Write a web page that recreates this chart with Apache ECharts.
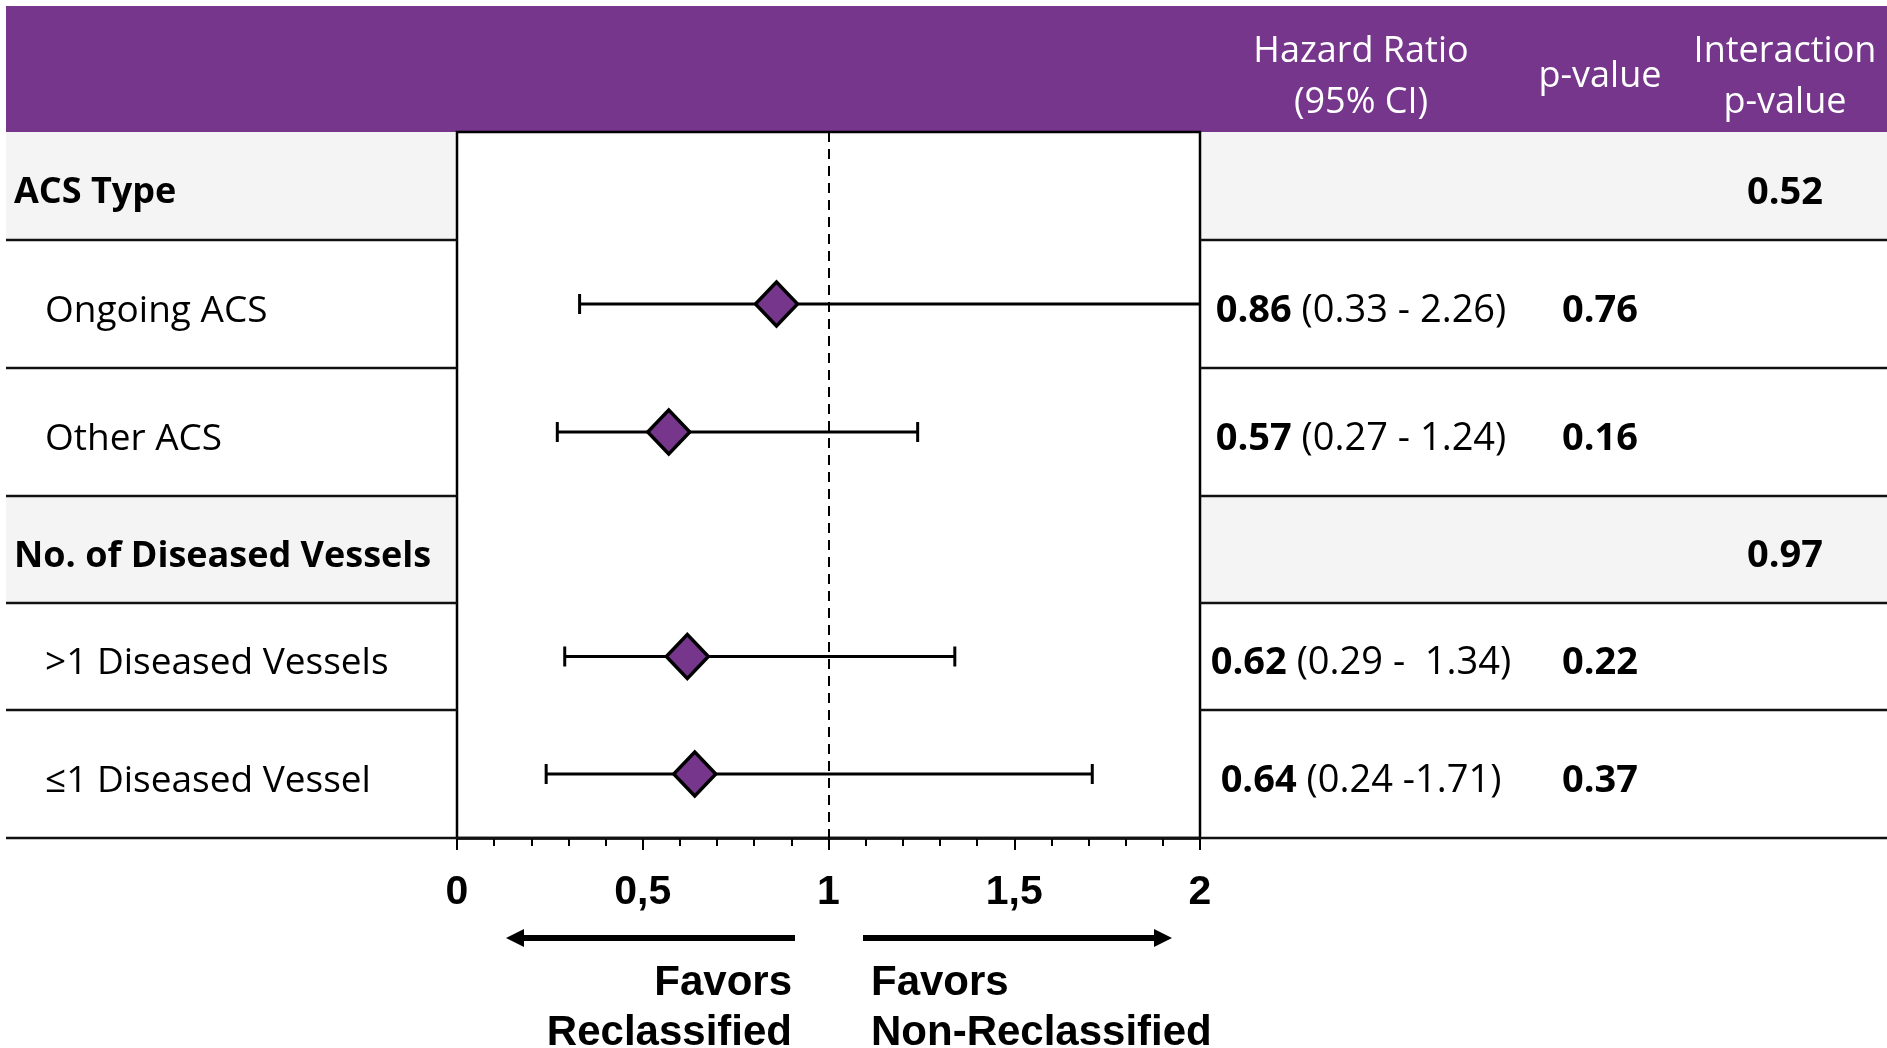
<!DOCTYPE html>
<html>
<head>
<meta charset="utf-8">
<script src="https://cdn.jsdelivr.net/npm/echarts@6/dist/echarts.min.js"></script>
<style>
  html, body { margin: 0; padding: 0; background: #fff; }
  #chart { width: 1887px; height: 1048px; }
</style>
</head>
<body>
<div id="chart"></div>
<script>
// data
const rowLabels = ['ACS Type', 'Ongoing ACS', 'Other ACS', 'No. of Diseased Vessels', '>1 Diseased Vessels', '≤1 Diseased Vessel']
const isGroup = [true, false, false, true, false, false]
const hazard = [null, 0.86, 0.57, null, 0.62, 0.64]
const ciLow = [null, 0.33, 0.27, null, 0.29, 0.24]
const ciHigh = [null, 2.26, 1.24, null, 1.34, 1.71]
const ciText = ['', '(0.33 - 2.26)', '(0.27 - 1.24)', '', '(0.29 -  1.34)', '(0.24 -1.71)']
const pValues = ['', '0.76', '0.16', '', '0.22', '0.37']
const interactionP = ['0.52', '', '', '0.97', '', '']
const xTicks = [0, 0.5, 1, 1.5, 2]

// layout
const rowHeights = [108, 128, 128, 107, 107, 128]
const PURPLE = '#76368c'
const GRAY = '#f4f4f4'
const TEXT_FONT = '"Open Sans", sans-serif'
const AXIS_FONT = '"Liberation Sans", Arial, sans-serif'
const plotLeft = 457
const plotRight = 1200
const tableTop = 132
const colHR = 1361
const colP = 1600
const colInt = 1785
const textShift = 7

const rowStart = []
let acc = 0
rowHeights.forEach(h => { rowStart.push(acc); acc += h })
const totalHeight = acc
const rowMid = rowHeights.map((h, i) => rowStart[i] + h / 2)

const chart = echarts.init(document.getElementById('chart'))

const pointData = []
const ciData = []
hazard.forEach((v, i) => {
  if (v == null) return
  pointData.push([v, rowMid[i]])
  ciData.push([ciLow[i], ciHigh[i], rowMid[i]])
})

const graphics = []

// header band
graphics.push({
  type: 'rect', shape: { x: 6, y: 6, width: 1881, height: tableTop - 6 },
  style: { fill: PURPLE }, z: 0
})
const headerText = (x, text) => ({
  type: 'text', x, y: 77, z: 5,
  style: {
    text, fill: '#fff', font: '36px ' + TEXT_FONT, lineHeight: 51,
    align: 'center', verticalAlign: 'middle'
  }
})
graphics.push(headerText(colHR, 'Hazard Ratio\n(95% CI)'))
graphics.push(headerText(colP, 'p-value'))
graphics.push(headerText(colInt, 'Interaction\np-value'))

// rows
rowLabels.forEach((label, i) => {
  const top = tableTop + rowStart[i]
  const mid = tableTop + rowMid[i] + textShift
  if (isGroup[i]) {
    graphics.push({ type: 'rect', shape: { x: 6, y: top, width: plotLeft - 6, height: rowHeights[i] }, style: { fill: GRAY }, z: 0 })
    graphics.push({ type: 'rect', shape: { x: plotRight, y: top, width: 1887 - plotRight, height: rowHeights[i] }, style: { fill: GRAY }, z: 0 })
  }
  if (i > 0) {
    graphics.push({ type: 'line', shape: { x1: 6, y1: top, x2: plotLeft, y2: top }, style: { stroke: '#111', lineWidth: 2.5 }, z: 2 })
    graphics.push({ type: 'line', shape: { x1: plotRight, y1: top, x2: 1887, y2: top }, style: { stroke: '#111', lineWidth: 2.5 }, z: 2 })
  }
  graphics.push({
    type: 'text', x: isGroup[i] ? 14 : 45, y: mid, z: 5,
    style: {
      text: label, fill: '#000',
      font: (isGroup[i] ? 'bold 36px ' : '37px ') + TEXT_FONT,
      verticalAlign: 'middle'
    }
  })
  if (hazard[i] != null) {
    graphics.push({
      type: 'text', x: colHR, y: mid, z: 5,
      style: {
        text: '{b|' + hazard[i].toFixed(2) + '} ' + ciText[i],
        fill: '#000', font: '38px ' + TEXT_FONT,
        align: 'center', verticalAlign: 'middle',
        rich: { b: { fontWeight: 'bold', fontSize: 38, fontFamily: TEXT_FONT } }
      }
    })
  }
  if (pValues[i]) {
    graphics.push({
      type: 'text', x: colP, y: mid, z: 5,
      style: { text: pValues[i], fill: '#000', font: 'bold 38px ' + TEXT_FONT, align: 'center', verticalAlign: 'middle' }
    })
  }
  if (interactionP[i]) {
    graphics.push({
      type: 'text', x: colInt, y: mid, z: 5,
      style: { text: interactionP[i], fill: '#000', font: 'bold 38px ' + TEXT_FONT, align: 'center', verticalAlign: 'middle' }
    })
  }
})

// bottom rule across the full width
const bottomY = tableTop + totalHeight
graphics.push({ type: 'line', shape: { x1: 6, y1: bottomY, x2: 1887, y2: bottomY }, style: { stroke: '#111', lineWidth: 2.5 }, z: 2 })

// direction arrows
const arrow = (x1, x2, y) => {
  const dir = x2 > x1 ? 1 : -1
  const head = 18
  return {
    type: 'group', z: 5,
    children: [
      { type: 'line', shape: { x1, y1: y, x2: x2 - dir * head, y2: y }, style: { stroke: '#000', lineWidth: 6 } },
      { type: 'polygon', shape: { points: [[x2, y], [x2 - dir * head, y - 9], [x2 - dir * head, y + 9]] }, style: { fill: '#000' } }
    ]
  }
}
graphics.push(arrow(795, 506, 938))
graphics.push(arrow(863, 1172, 938))
graphics.push({
  type: 'text', x: 792, y: 1008, z: 5,
  style: { text: 'Favors\nReclassified', fill: '#000', font: 'bold 42px ' + AXIS_FONT, lineHeight: 50, align: 'right', verticalAlign: 'middle' }
})
graphics.push({
  type: 'text', x: 871, y: 1008, z: 5,
  style: { text: 'Favors\nNon-Reclassified', fill: '#000', font: 'bold 42px ' + AXIS_FONT, lineHeight: 50, align: 'left', verticalAlign: 'middle' }
})

const option = {
  animation: false,
  backgroundColor: '#fff',
  grid: {
    left: plotLeft,
    top: tableTop,
    width: plotRight - plotLeft,
    height: totalHeight,
    show: true,
    borderColor: '#000',
    borderWidth: 2.5,
    backgroundColor: '#fff',
    z: 1
  },
  xAxis: {
    type: 'value',
    min: xTicks[0],
    max: xTicks[xTicks.length - 1],
    interval: xTicks[1] - xTicks[0],
    axisLine: { show: true, onZero: false, lineStyle: { color: '#000', width: 2.5 } },
    axisTick: { show: true, length: 12, lineStyle: { color: '#000', width: 2 } },
    minorTick: { show: true, splitNumber: 5, length: 8, lineStyle: { color: '#000', width: 2 } },
    splitLine: { show: false },
    axisLabel: {
      color: '#000',
      fontFamily: AXIS_FONT,
      fontWeight: 'bold',
      fontSize: 41,
      margin: 34,
      showMinLabel: true,
      showMaxLabel: true,
      formatter: v => String(v).replace('.', ',')
    }
  },
  yAxis: {
    type: 'value',
    min: 0,
    max: totalHeight,
    inverse: true,
    show: false
  },
  graphic: graphics,
  series: [
    {
      type: 'custom',
      z: 3,
      data: ciData,
      renderItem: (params, api) => {
        const y = api.value(2)
        const hiVal = api.value(1)
        const lo = api.coord([api.value(0), y])
        const hi = api.coord([Math.min(hiVal, 2), y])
        const cap = 10
        const style = { stroke: '#000', lineWidth: 3 }
        const children = [
          { type: 'line', shape: { x1: lo[0], y1: lo[1], x2: hi[0], y2: hi[1] }, style },
          { type: 'line', shape: { x1: lo[0], y1: lo[1] - cap, x2: lo[0], y2: lo[1] + cap }, style }
        ]
        if (hiVal <= 2) {
          children.push({ type: 'line', shape: { x1: hi[0], y1: hi[1] - cap, x2: hi[0], y2: hi[1] + cap }, style })
        }
        return { type: 'group', children }
      },
      markLine: {
        silent: true,
        symbol: 'none',
        label: { show: false },
        lineStyle: { color: '#000', type: [10, 7], width: 2 },
        data: [{ xAxis: 1 }]
      }
    },
    {
      type: 'scatter',
      z: 4,
      data: pointData,
      symbol: 'diamond',
      symbolSize: [42, 44],
      itemStyle: { color: PURPLE, borderColor: '#000', borderWidth: 3.5, opacity: 1 }
    }
  ]
}

chart.setOption(option)
</script>
</body>
</html>
